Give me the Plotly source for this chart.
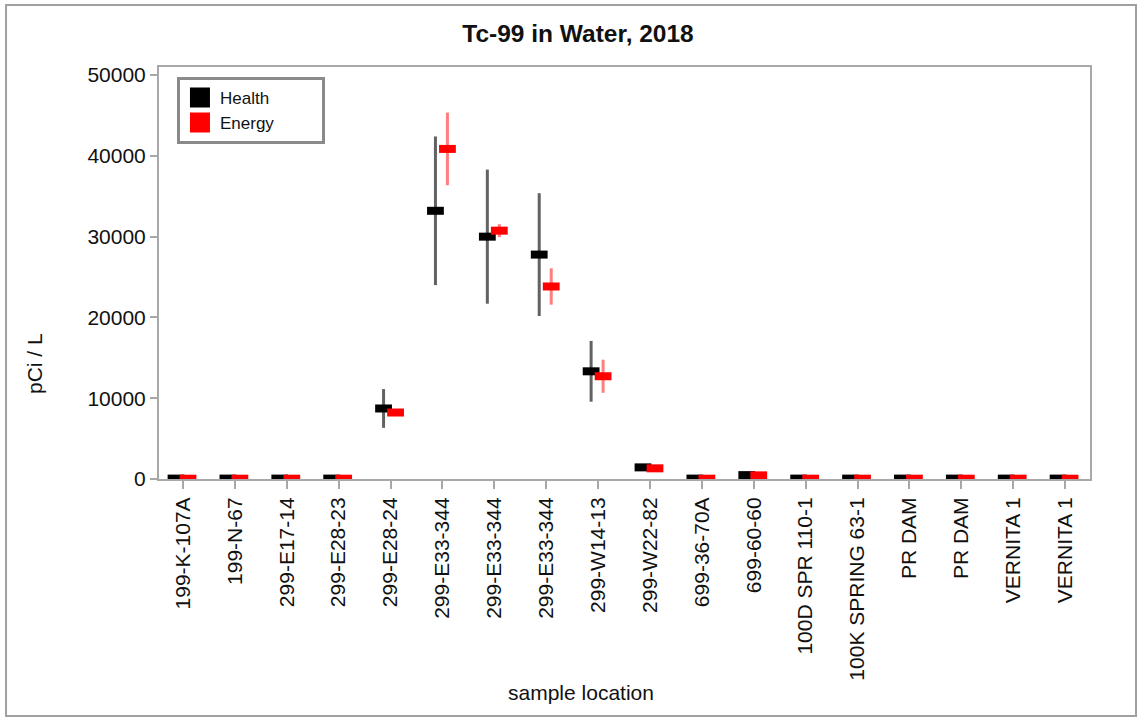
import plotly.graph_objects as go

# ---------------- data ----------------
locations = ["199-K-107A", "199-N-67", "299-E17-14", "299-E28-23", "299-E28-24",
             "299-E33-344", "299-E33-344", "299-E33-344", "299-W14-13", "299-W22-82",
             "699-36-70A", "699-60-60", "100D SPR 110-1", "100K SPRING 63-1",
             "PR DAM", "PR DAM", "VERNITA 1", "VERNITA 1"]

health_values = [50, 50, 50, 50, 8730, 33200, 30000, 27780, 13330, 1440,
                 50, 480, 50, 50, 50, 50, 50, 50]
health_errors = [0, 0, 0, 0, 2400, 9200, 8300, 7600, 3760, 300,
                 0, 100, 0, 0, 0, 0, 0, 0]

energy_values = [40, 40, 40, 40, 8230, 40860, 30740, 23830, 12720, 1320,
                 40, 450, 40, 40, 40, 40, 40, 40]
energy_errors = [0, 0, 0, 0, 200, 4500, 800, 2250, 2050, 150,
                 0, 80, 0, 0, 0, 0, 0, 0]

y_ticks = [0, 10000, 20000, 30000, 40000, 50000]

# ---------------- figure ----------------
FONT = "Liberation Sans, Arial, sans-serif"
idx = list(range(len(locations)))
health_x = [i - 0.135 for i in idx]
energy_x = [i + 0.096 for i in idx]

fig = go.Figure()

fig.add_trace(go.Scatter(
    x=health_x, y=health_values, mode="markers", name="Health", showlegend=False,
    marker=dict(symbol="line-ew", size=12, color="black",
                line=dict(color="black", width=8)),
    error_y=dict(type="data", array=health_errors, visible=True,
                 color="rgba(70,70,70,0.85)", thickness=3, width=0),
))
fig.add_trace(go.Scatter(
    x=energy_x, y=energy_values, mode="markers", name="Energy", showlegend=False,
    marker=dict(symbol="line-ew", size=12, color="red",
                line=dict(color="red", width=8)),
    error_y=dict(type="data", array=energy_errors, visible=True,
                 color="rgba(255,0,0,0.5)", thickness=3, width=0),
))

# legend entries (padded with non-breaking spaces to widen the box)
PAD = "\u00a0" * 9
for name, col in [("Health", "black"), ("Energy", "red")]:
    fig.add_trace(go.Scatter(
        x=[None], y=[None], mode="markers", name=name + PAD,
        marker=dict(symbol="square", size=16, color=col, line=dict(color=col, width=4)),
    ))

W, H = 1139, 717
axis_col = "#a8a8a8"
fig.update_layout(
    width=W, height=H,
    paper_bgcolor="white", plot_bgcolor="white",
    margin=dict(l=159, r=49, t=67, b=238, pad=0),
    font=dict(family=FONT, size=21, color="#111"),
    title=dict(text="<b>Tc-99 in Water, 2018</b>", x=578 / W, xref="container",
               xanchor="center", y=1 - 33 / H, yref="container", yanchor="middle",
               font=dict(size=24.5, family=FONT, color="#111")),
    showlegend=True,
    legend=dict(x=0.0193, y=0.976, xanchor="left", yanchor="top",
                bgcolor="white", bordercolor="#8a8a8a", borderwidth=3,
                font=dict(size=17, family=FONT, color="#111"),
                tracegroupgap=0, itemclick=False),
    xaxis=dict(range=[-0.463, 17.48], tickmode="array", tickvals=idx, ticktext=locations,
               tickangle=-90, showgrid=False, zeroline=False,
               showline=True, linecolor=axis_col, linewidth=2, mirror=True,
               ticks="outside", ticklen=8, tickwidth=2, tickcolor=axis_col,
               tickfont=dict(size=21, family=FONT, color="#111")),
    yaxis=dict(range=[0, 51000], tickmode="array", tickvals=y_ticks,
               ticktext=[str(v) for v in y_ticks],
               showgrid=False, zeroline=False,
               showline=True, linecolor=axis_col, linewidth=2, mirror=True,
               ticks="outside", ticklen=7, tickwidth=2, tickcolor=axis_col,
               tickfont=dict(size=21, family=FONT, color="#111")),
    annotations=[
        dict(text="sample location", xref="paper", yref="paper", x=0.4533, y=-0.517,
             xanchor="center", yanchor="middle", showarrow=False,
             font=dict(size=21, family=FONT, color="#111")),
        dict(text="pCi / L", xref="paper", yref="paper", x=-0.1332, y=0.2816,
             xanchor="center", yanchor="middle", textangle=-90, showarrow=False,
             font=dict(size=21, family=FONT, color="#111")),
    ],
    shapes=[
        dict(type="rect", xref="paper", yref="paper", x0=-0.1643, x1=1.0494,
             y0=-0.575, y1=1.1505, line=dict(color="#a0a0a0", width=2),
             fillcolor="rgba(0,0,0,0)", layer="below"),
    ],
)

fig.write_html("out.html", config={"displayModeBar": False},
               post_script="document.body.style.margin='0';document.body.style.overflow='hidden';")
